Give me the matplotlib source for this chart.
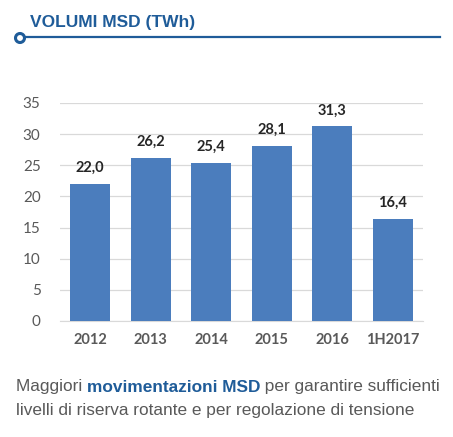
import matplotlib
matplotlib.use("Agg")
import matplotlib.pyplot as plt
from matplotlib.patches import Circle
from matplotlib.lines import Line2D

categories = ["2012", "2013", "2014", "2015", "2016", "1H2017"]
values = [22.0, 26.2, 25.4, 28.1, 31.3, 16.4]
value_labels = ["22,0", "26,2", "25,4", "28,1", "31,3", "16,4"]
yticks = [0, 5, 10, 15, 20, 25, 30, 35]

title_blue = "#1f5c99"
bar_color = "#4b7dbd"
tick_gray = "#595959"
chart_font = ["Lato", "DejaVu Sans"]

fig = plt.figure(figsize=(4.53, 4.37), dpi=100)
ax = fig.add_axes([60 / 453, 1 - 321 / 437, 363 / 453, 218 / 437])

x = list(range(len(categories)))
ax.bar(x, values, width=0.66, color=bar_color, zorder=3)
for xi, v, lab in zip(x, values, value_labels):
    ax.text(xi, v + 1.4, lab, ha="center", va="bottom", fontsize=10.5,
            fontweight="bold", color="#262626", family=chart_font)

ax.set_xlim(-0.5, 5.5)
ax.set_ylim(0, 35)
ax.set_yticks(yticks)
ax.set_xticks(x)
ax.set_xticklabels(categories, fontweight="bold", family=chart_font)
ax.yaxis.grid(True, color="#d9d9d9", linewidth=0.9, zorder=0)
ax.tick_params(axis="both", length=0, colors=tick_gray, labelsize=11)
ax.tick_params(axis="x", pad=9, labelsize=10.5)
ax.tick_params(axis="y", pad=14)
for lab in ax.get_yticklabels():
    lab.set_family(chart_font)
for s in ["top", "right", "left"]:
    ax.spines[s].set_visible(False)
ax.spines["bottom"].set_color("#d9d9d9")

# header
fig.text(30 / 453, 1 - 22 / 437, "VOLUMI MSD (TWh)", fontsize=12.5, fontweight="bold",
         color=title_blue, va="center", ha="left", family="Liberation Sans")
fig.add_artist(Line2D([25 / 453, 440 / 453], [1 - 37 / 437, 1 - 37 / 437],
                      color=title_blue, linewidth=1.6, transform=fig.transFigure))
fig.add_artist(Circle((20, 437 - 38), 4.5, transform=None, facecolor="white",
                      edgecolor=title_blue, linewidth=2.2, zorder=5))

# footer
fs = 12.4
y1 = 1 - 387 / 437
y2 = 1 - 410 / 437
t1 = fig.text(16 / 453, y1, "Maggiori ", fontsize=fs, color="#595959", va="center",
              family="Liberation Sans")
fig.canvas.draw()
r = fig.canvas.get_renderer()
bb = t1.get_window_extent(r)
t2 = fig.text(bb.x1 / 453, y1, "movimentazioni MSD", fontsize=fs, color=title_blue,
              fontweight="bold", va="center", family="Liberation Sans")
bb2 = t2.get_window_extent(r)
fig.text(bb2.x1 / 453, y1, " per garantire sufficienti", fontsize=fs, color="#595959",
         va="center", family="Liberation Sans")
fig.text(16 / 453, y2, "livelli di riserva rotante e per regolazione di tensione",
         fontsize=fs, color="#595959", va="center", family="Liberation Sans")

fig.savefig("out.png", dpi=100)
